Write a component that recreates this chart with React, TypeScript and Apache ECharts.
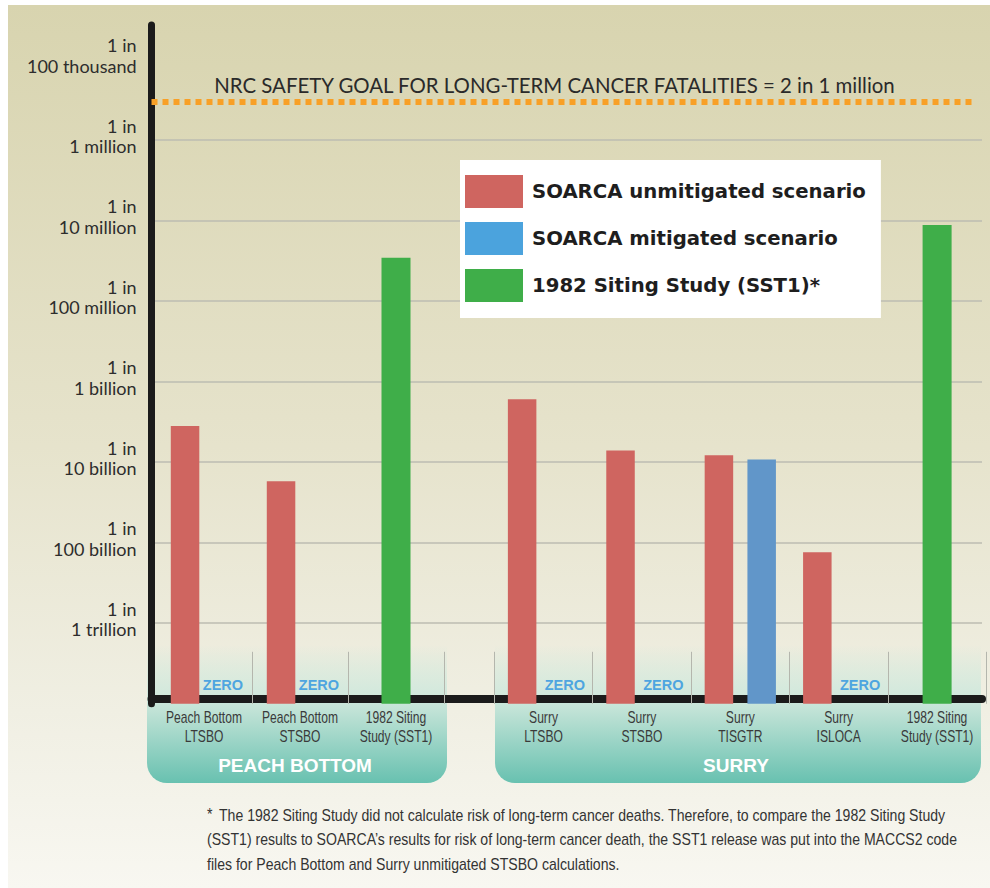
import React, { useEffect, useRef } from "react";
import * as echarts from "echarts";

// ---------- data ----------
const LOG_FLOOR = -13; // axis floor: 1 in 10 trillion
const yTickLabels = [
  "",
  "1 in\n1 trillion",
  "1 in\n100 billion",
  "1 in\n10 billion",
  "1 in\n1 billion",
  "1 in\n100 million",
  "1 in\n10 million",
  "1 in\n1 million",
  "1 in\n100 thousand",
];

const pbCategories = ["Peach Bottom\nLTSBO", "Peach Bottom\nSTSBO", "1982 Siting\nStudy (SST1)"];
const pbUnmitigated: (number | null)[] = [2.81e-10, 5.78e-11, null];
const pbMitigated: (number | null)[] = [0, 0, null];
const pbSST1: (number | null)[] = [null, null, 3.45e-8];

const surryCategories = ["Surry\nLTSBO", "Surry\nSTSBO", "Surry\nTISGTR", "Surry\nISLOCA", "1982 Siting\nStudy (SST1)"];
const surryUnmitigated: (number | null)[] = [6.03e-10, 1.4e-10, 1.22e-10, 7.6e-12, null];
const surryMitigated: (number | null)[] = [0, 0, 1.08e-10, 0, null];
const surrySST1: (number | null)[] = [null, null, null, null, 8.8e-8];

const GOAL_LEVEL = 3e-6;
const goalText = "NRC SAFETY GOAL FOR LONG-TERM CANCER FATALITIES = 2 in 1 million";
const seriesNames = ["SOARCA unmitigated scenario", "SOARCA mitigated scenario", "1982 Siting Study (SST1)*"];
const groupNames = ["PEACH BOTTOM", "SURRY"];
const footnote = [
  "The 1982 Siting Study did not calculate risk of long-term cancer deaths. Therefore, to compare the 1982 Siting Study",
  "(SST1) results to SOARCA\u2019s results for risk of long-term cancer death, the SST1 release was put into the MACCS2 code",
  "files for Peach Bottom and Surry unmitigated STSBO calculations.",
];

// ---------- styles ----------
const RED = "#cf6560";
const BLUE = "#6196c9";
const BLUE_LEGEND = "#4ba3dd";
const GREEN = "#3fae49";
const SANS = '"Liberation Sans", Arial, sans-serif';
const Y_MAX = 8.427;
const GRID_TOP = 25;
const GRID_BOTTOM = 184.2;

const toAxis = (p: number | null) => (p === null ? "-" : p === 0 ? 0 : Math.log10(p) - LOG_FLOOR);

function measure(text: string, font: string) {
  const ctx = document.createElement("canvas").getContext("2d");
  if (!ctx) return text.length * 7;
  ctx.font = font;
  return ctx.measureText(text).width;
}

export default function App() {
  const ref = useRef<HTMLDivElement>(null);
  useEffect(() => {
    if (!ref.current) return;
    const chart = echarts.init(ref.current, undefined, { renderer: "svg" });

    const hiddenY = (grid: number) => ({
      type: "value", gridIndex: grid, min: 0, max: Y_MAX, show: false, splitLine: { show: false },
    });
    const catAxis = (grid: number, data: string[]) => ({
      type: "category",
      gridIndex: grid,
      data,
      axisLine: { show: false },
      axisTick: {
        show: true, inside: true, length: 52,
        interval: grid === 1 ? (i: number) => i !== 0 : 0,
        lineStyle: { color: "#b4b6ad", width: 1 },
      },
      axisLabel: { show: false },
      splitLine: { show: false },
    });
    const hiddenCat = (grid: number, data: string[]) => ({ type: "category", gridIndex: grid, data, show: false });

    const zeroLabel = (src: (number | null)[]) => ({
      show: true,
      position: "top",
      distance: 11,
      formatter: (p: any) => (src[p.dataIndex] === 0 ? "ZERO" : ""),
      color: "#4ea5e0",
      fontFamily: SANS,
      fontWeight: "bold",
      fontSize: 14.5,
    });

    const option: any = {
      animation: false,
      grid: [
        { left: 151.5, right: 8, top: GRID_TOP, bottom: GRID_BOTTOM },
        { left: 156, width: 288, top: GRID_TOP, bottom: GRID_BOTTOM },
        { left: 494.3, width: 492, top: GRID_TOP, bottom: GRID_BOTTOM },
      ],
      xAxis: [
        {
          type: "value", gridIndex: 0, min: 0, max: 1, offset: -4.8,
          axisLine: { show: true, lineStyle: { color: "#1b1b1b", width: 8 } },
          axisTick: { show: false }, axisLabel: { show: false }, splitLine: { show: false },
        },
        catAxis(1, pbCategories),
        hiddenCat(1, pbCategories),
        catAxis(2, surryCategories),
        hiddenCat(2, surryCategories),
      ],
      yAxis: [
        {
          type: "value", gridIndex: 0, min: 0, max: Y_MAX, interval: 1,
          axisLine: { show: true, lineStyle: { color: "#1b1b1b", width: 7 } },
          axisTick: { show: false },
          axisLabel: {
            formatter: (v: number) => {
              const r = Math.round(v);
              if (Math.abs(v - r) > 1e-6) return "";
              const lbl = yTickLabels[r] ?? "";
              if (!lbl) return "";
              return lbl.split("\n").map((s) => `{t|${s}}`).join("\n") + "\n{s| }";
            },
            align: "right", margin: 15,
            rich: {
              t: { fontFamily: "Lato, sans-serif", fontSize: 18, color: "#2d2d2d", lineHeight: 20.5, align: "right" },
              s: { fontSize: 1, lineHeight: 8 },
            },
          },
          splitLine: {
            show: true,
            lineStyle: {
              width: 1.5,
              color: [
                "rgba(0,0,0,0)", "#bdbcb2", "#bdbcb2", "#bdbcb2", "#bdbcb2",
                "#bdbcb2", "#bdbcb2", "#bdbcb2", "rgba(0,0,0,0)", "rgba(0,0,0,0)",
              ],
            },
          },
        },
        hiddenY(1),
        hiddenY(2),
      ],
      legend: {
        orient: "vertical",
        left: 460,
        top: 160,
        backgroundColor: "#ffffff",
        padding: [15, 15, 16, 5],
        itemWidth: 58,
        itemHeight: 33,
        itemGap: 14,
        icon: "rect",
        selectedMode: false,
        textStyle: {
          fontFamily: '"DejaVu Sans", sans-serif', fontWeight: "bold", fontSize: 19.7, color: "#1e1e1e",
          padding: [0, 0, 0, 4],
        },
        data: [
          { name: seriesNames[0], itemStyle: { color: RED } },
          { name: seriesNames[1], itemStyle: { color: BLUE_LEGEND } },
          { name: seriesNames[2], itemStyle: { color: GREEN } },
        ],
      },
      series: [
        {
          type: "line", name: "goal", xAxisIndex: 0, yAxisIndex: 0, data: [], silent: true,
          markLine: {
            silent: true, symbol: "none", label: { show: false },
            lineStyle: { color: "#f8a026", width: 6, type: [6, 5] },
            data: [[
              { xAxis: 0, yAxis: toAxis(GOAL_LEVEL) },
              { xAxis: 0.989, yAxis: toAxis(GOAL_LEVEL) },
            ]],
          },
        },
        {
          type: "bar", name: seriesNames[0], xAxisIndex: 1, yAxisIndex: 1, barWidth: 28.5, barGap: "33%",
          data: pbUnmitigated.map(toAxis), itemStyle: { color: RED },
        },
        {
          type: "bar", name: seriesNames[1], xAxisIndex: 1, yAxisIndex: 1, barWidth: 28.5, barGap: "33%",
          data: pbMitigated.map(toAxis), itemStyle: { color: BLUE }, label: zeroLabel(pbMitigated),
        },
        {
          type: "bar", name: seriesNames[2], xAxisIndex: 2, yAxisIndex: 1, barWidth: 29,
          data: pbSST1.map(toAxis), itemStyle: { color: GREEN },
        },
        {
          type: "bar", name: seriesNames[0], xAxisIndex: 3, yAxisIndex: 2, barWidth: 28.5, barGap: "50%",
          data: surryUnmitigated.map(toAxis), itemStyle: { color: RED },
        },
        {
          type: "bar", name: seriesNames[1], xAxisIndex: 3, yAxisIndex: 2, barWidth: 28.5, barGap: "50%",
          data: surryMitigated.map(toAxis), itemStyle: { color: BLUE }, label: zeroLabel(surryMitigated),
        },
        {
          type: "bar", name: seriesNames[2], xAxisIndex: 4, yAxisIndex: 2, barWidth: 29,
          data: surrySST1.map(toAxis), itemStyle: { color: GREEN },
        },
      ],
    };

    chart.setOption(option);

    // category labels (condensed look via horizontal scaling), placed through the axes
    const catFont = 16;
    const catScale = 76 / measure("Peach Bottom", `${catFont}px "Liberation Sans"`);
    const catLabels: any[] = [];
    const addCats = (axisIndex: number, cats: string[]) => {
      cats.forEach((c, i) => {
        const x = chart.convertToPixel({ xAxisIndex: axisIndex } as any, i) as unknown as number;
        catLabels.push({
          type: "text", z: 50, silent: true, x, y: 707.5, scaleX: catScale,
          style: {
            text: c, fill: "#3a3a3a", fontFamily: SANS, fontSize: catFont, lineHeight: 19,
            align: "center", verticalAlign: "top",
          },
        });
      });
    };
    addCats(1, pbCategories);
    addCats(3, surryCategories);

    const noteFont = 16;
    const noteScale = (958 - 207) / measure(footnote[1], `${noteFont}px "Liberation Sans"`);

    const graphic: any[] = [
      {
        type: "rect", z: -20, silent: true,
        shape: { x: 8, y: 5, width: 982, height: 883 },
        style: {
          fill: new echarts.graphic.LinearGradient(0, 0, 0, 1, [
            { offset: 0, color: "#d8d4af" },
            { offset: 0.5, color: "#e6e3cc" },
            { offset: 0.8, color: "#f0efe3" },
            { offset: 1, color: "#f8f7f1" },
          ]),
        },
      },
      ...[
        { x: 147, w: 300 },
        { x: 495, w: 486 },
      ].map((b) => ({
        type: "rect", z: -10, silent: true,
        shape: { x: b.x, y: 645, width: b.w, height: 138, r: [0, 0, 20, 20] },
        style: {
          fill: new echarts.graphic.LinearGradient(0, 0, 0, 1, [
            { offset: 0, color: "rgba(205,232,218,0)" },
            { offset: 0.36, color: "#d2e9dd" },
            { offset: 0.42, color: "#cae6da" },
            { offset: 1, color: "#68c1b0" },
          ]),
        },
      })),
      {
        type: "text", z: 50, silent: true, x: 295, y: 765,
        style: {
          text: groupNames[0], fill: "#ffffff", fontFamily: SANS,
          fontWeight: "bold", fontSize: 19, align: "center", verticalAlign: "middle",
        },
      },
      {
        type: "text", z: 50, silent: true, x: 736, y: 765,
        style: {
          text: groupNames[1], fill: "#ffffff", fontFamily: SANS,
          fontWeight: "bold", fontSize: 19, align: "center", verticalAlign: "middle",
        },
      },
      {
        type: "text", z: 50, silent: true, x: 554.5, y: 85,
        style: {
          text: goalText, fill: "#2a2a2a", fontFamily: "Lato, sans-serif",
          fontSize: 20.4, align: "center", verticalAlign: "middle",
        },
      },
      {
        type: "text", z: 50, silent: true, x: 207, y: 814, scaleX: noteScale,
        style: { text: "*", fill: "#333333", fontFamily: SANS, fontSize: noteFont, verticalAlign: "middle" },
      },
      ...footnote.map((line, i) => ({
        type: "text", z: 50, silent: true, x: i === 0 ? 219 : 207, y: 815 + i * 24.5, scaleX: noteScale,
        style: { text: line, fill: "#333333", fontFamily: SANS, fontSize: noteFont, verticalAlign: "middle" },
      })),
      ...catLabels,
    ];

    chart.setOption({ graphic });
    return () => chart.dispose();
  }, []);

  return (
    <div
      ref={ref}
      style={{ position: "absolute", left: 0, top: 0, width: 990, height: 888, background: "#ffffff" }}
    />
  );
}
